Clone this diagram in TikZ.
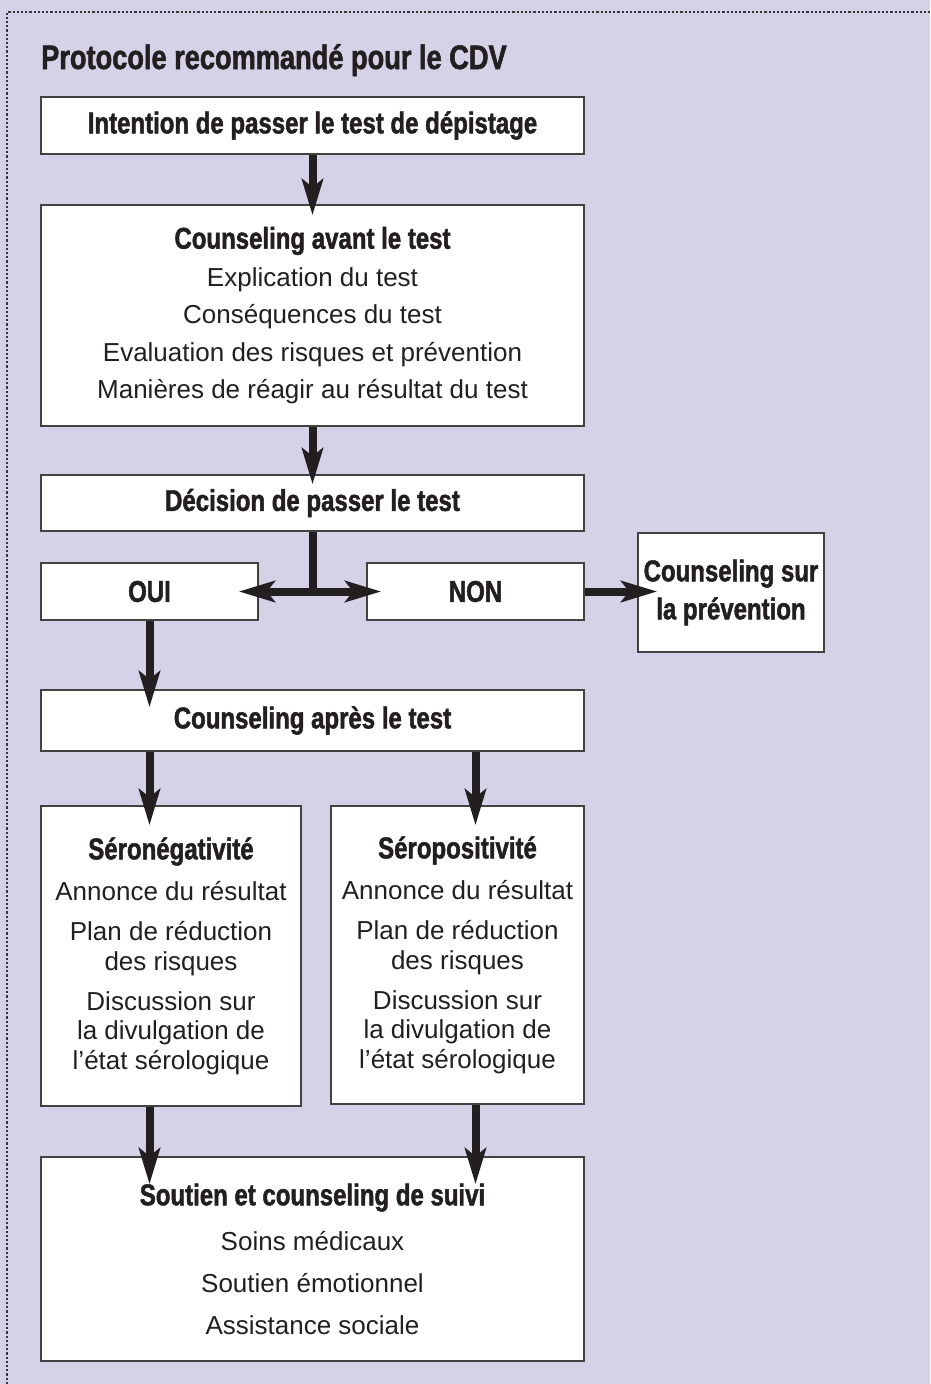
\documentclass[tikz,border=0pt]{standalone}
\usepackage{fontspec}
\setmainfont{Liberation Sans}
\newfontfamily\headfont[FakeStretch=0.8,FakeBold=1.6]{Liberation Sans Bold}
\usetikzlibrary{arrows.meta}

\definecolor{lavender}{RGB}{213,209,231}
\definecolor{ink}{RGB}{35,31,32}

\begin{document}
\begin{tikzpicture}[x=1pt,y=-1pt,
    box/.style={draw=ink!85, line width=1.5pt, fill=white, inner sep=0pt, align=center,
        text=ink, font=\fontsize{26}{37.5}\selectfont},
    head/.style={font=\headfont\fontsize{30}{38}\selectfont},
    flow/.style={draw=ink, line width=8pt, shorten >=-20pt,
        -{Stealth[length=36pt,width=21pt,inset=8pt]}},
    border/.style={draw=ink!90, line width=2.2pt, dash pattern=on 2.2pt off 2pt}]

    % background and frame
    \useasboundingbox[fill=lavender] (0,0) rectangle (930,1384);
    \draw[border] (7,1384) -- (7,12) -- (930,12);

    \node[anchor=base west, inner sep=0pt, text=ink, font=\headfont\fontsize{34}{40}\selectfont]
        (titre) at (41,69) {Protocole recommandé pour le CDV};

    % boxes
    \node[box, head, minimum width=543pt, minimum height=57pt] (intention) at (312.5,125.5)
        {Intention de passer le test de dépistage};
    \node[box, minimum width=543pt, minimum height=221pt] (avant) at (312.5,315.5)
        {{\headfont\fontsize{30}{37.5}\selectfont Counseling avant le test}\\
         Explication du test\\
         Conséquences du test\\
         Evaluation des risques et prévention\\
         Manières de réagir au résultat du test};
    \node[box, head, minimum width=543pt, minimum height=56pt] (decision) at (312.5,503)
        {Décision de passer le test};
    \node[box, head, minimum width=217pt, minimum height=57pt] (oui) at (149.5,591.5) {OUI};
    \node[box, head, minimum width=217pt, minimum height=57pt] (non) at (475.5,591.5) {NON};
    \node[box, head, minimum width=186pt, minimum height=119pt] (prevention) at (731,592.5)
        {Counseling sur\\la prévention};
    \node[box, head, minimum width=543pt, minimum height=61pt] (apres) at (312.5,720.5)
        {Counseling après le test};
    \node[box, font=\fontsize{26}{29.5}\selectfont, minimum width=260pt, minimum height=300pt]
        (seroneg) at (171,956)
        {{\headfont\fontsize{30}{29.5}\selectfont Séronégativité}\\[12pt]
         Annonce du résultat\\[10.5pt]
         Plan de réduction\\des risques\\[10.5pt]
         Discussion sur\\la divulgation de\\l’état sérologique};
    \node[box, font=\fontsize{26}{29.5}\selectfont, minimum width=253pt, minimum height=298pt]
        (seropos) at (457.5,955)
        {{\headfont\fontsize{30}{29.5}\selectfont Séropositivité}\\[12pt]
         Annonce du résultat\\[10.5pt]
         Plan de réduction\\des risques\\[10.5pt]
         Discussion sur\\la divulgation de\\l’état sérologique};
    \node[box, font=\fontsize{26}{42}\selectfont, minimum width=543pt, minimum height=204pt]
        (suivi) at (312.5,1259)
        {{\headfont\fontsize{30}{42}\selectfont Soutien et counseling de suivi}\\[3pt]
         Soins médicaux\\
         Soutien émotionnel\\
         Assistance sociale};

    % connectors
    \coordinate (fourche) at (decision.south |- oui.east);
    \draw[flow, shorten >=-11pt] (intention) -- (avant);
    \draw[flow, shorten >=-10pt] (avant) -- (decision);
    \draw[draw=ink, line width=8pt] (decision.south) -- (fourche);
    \draw[flow] (fourche) -- (oui.east);
    \draw[flow, shorten >=-15pt] (fourche) -- (non.west);
    \draw[flow] (non.east) -- (non.east -| prevention.west);
    \draw[flow, shorten >=-18pt] (oui.south) -- (oui.south |- apres.north);
    \draw[flow] (apres.south -| oui.south) -- (seroneg.north -| oui.south);
    \draw[flow] (apres.south -| non.south) -- (seropos.north -| non.south);
    \draw[flow, shorten >=-28pt] (seroneg.south -| oui.south) -- (suivi.north -| oui.south);
    \draw[flow, shorten >=-28pt] (seropos.south -| non.south) -- (suivi.north -| non.south);
\end{tikzpicture}
\end{document}
